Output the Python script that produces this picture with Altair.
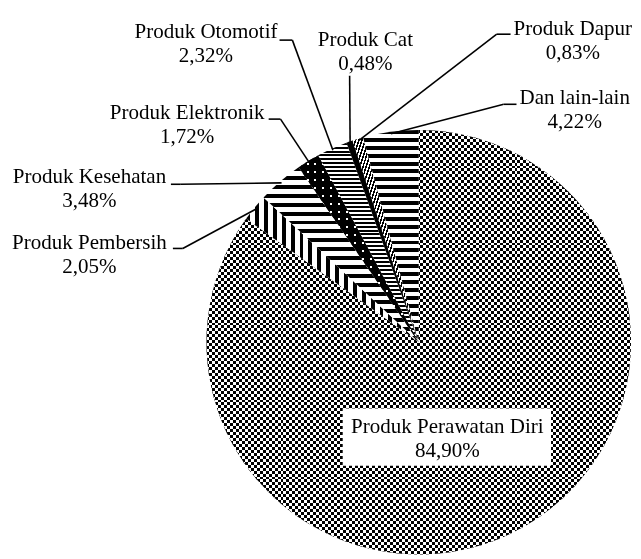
import math
import altair as alt
import pandas as pd

# ---------------- data ----------------
categories = [
    "Produk Perawatan Diri",
    "Produk Pembersih",
    "Produk Kesehatan",
    "Produk Elektronik",
    "Produk Otomotif",
    "Produk Cat",
    "Produk Dapur",
    "Dan lain-lain",
]
values = [84.90, 2.05, 3.48, 1.72, 2.32, 0.48, 0.83, 4.22]

# ---------------- layout (chart pixel coordinates) ----------------
label_x = [445, 82.5, 82.5, 181.5, 200.5, 362, 572, 574]
label_y = [427, 241, 174, 109, 27, 35, 24, 94]
lead_start_x = [None, 167, 165, 264, 275, 346, 509, 515]
lead_start_y = [None, 240, 175, 109, 29, 65, 23, 94]
lead_elbow_x = [None, 177, 175, 276, 288, 346, 495, 502]

W, H = 633, 551
CX, CY, R, R_LEAD = 416, 335, 215, 213
FONT = "Liberation Serif"
FS = 21.3
LINE = 24

pct_text = [f"{v:.2f}".replace(".", ",") + "%" for v in values]

df = pd.DataFrame({
    "category": categories,
    "value": values,
    "order": list(range(len(categories))),
    "pct": pct_text,
    "lx": label_x,
    "ly": label_y,
    "sx": lead_start_x,
    "sy": lead_start_y,
    "bx": lead_elbow_x,
})

# ---------------- pattern helpers (styling) ----------------
def wedge_bbox(a0, a1):
    pts = [(0.0, 0.0)]
    angs = [a0, a1] + [k * 90 for k in range(5) if a0 < k * 90 < a1]
    for a in angs:
        r = math.radians(a)
        pts.append((R * math.sin(r), -R * math.cos(r)))
    xs = [p[0] for p in pts]
    ys = [p[1] for p in pts]
    return max(xs) - min(xs), max(ys) - min(ys)


def stripe_stops(length, period, on, c_on, c_off):
    stops = []
    pos = 0.0
    while pos < length - 1e-9:
        a = pos / length
        b = min((pos + on) / length, 1.0)
        c = min((pos + period) / length, 1.0)
        stops += [
            {"offset": round(a, 5), "color": c_on},
            {"offset": round(b, 5), "color": c_on},
            {"offset": round(b, 5), "color": c_off},
            {"offset": round(c, 5), "color": c_off},
        ]
        pos += period
    return stops


def grad(direction, length, period, on, c_on, c_off):
    g = {"gradient": "linear", "x1": 0, "y1": 0, "x2": 0, "y2": 0,
         "stops": stripe_stops(length, period, on, c_on, c_off)}
    if direction == "h":      # horizontal stripes
        g["y2"] = 1
    elif direction == "v":    # vertical stripes
        g["x2"] = 1
    else:                     # diagonal
        g["x2"] = 1
        g["y2"] = 1
    return g


cum = []
s = 0.0
for v in values:
    cum.append((s, s + v))
    s += v
boxes = [wedge_bbox(a * 3.6, b * 3.6) for a, b in cum]

BL, WH, CLR = "#000000", "#ffffff", "rgba(255,255,255,0)"

# ---------------- chart ----------------
base = alt.Chart(df).transform_window(
    cum="sum(value)", sort=[alt.SortField("order", order="ascending")]
).transform_calculate(
    t0="datum.cum - datum.value",
    mid="(datum.cum - datum.value / 2) * 2 * PI / 100",
    ex=f"{CX} + {R_LEAD} * sin(datum.mid)",
    ey=f"{CY} - {R_LEAD} * cos(datum.mid)",
    ly2=f"datum.ly + {LINE}",
)

theta = alt.Theta("t0:Q", scale=alt.Scale(domain=[0, 100]))
theta2 = alt.Theta2("cum:Q")


def arc(i, fill, blend=None):
    kw = dict(fill=fill, radius=R, strokeWidth=0)
    if blend:
        kw["blend"] = blend
    return base.transform_filter(alt.datum.order == i).mark_arc(**kw).encode(
        theta=theta, theta2=theta2, x=alt.value(CX), y=alt.value(CY)
    )


w0, h0 = boxes[0]
layers = [
    arc(0, grad("h", h0, 6, 3, BL, WH)),
    arc(0, grad("v", w0, 6, 3, WH, CLR), blend="difference"),
    arc(1, grad("v", boxes[1][0], 9, 4, BL, WH)),
    arc(2, grad("h", boxes[2][1], 9, 4, BL, WH)),
    arc(3, grad("h", boxes[3][1], 8, 2, WH, BL)),
    arc(3, grad("v", boxes[3][0], 8, 2, WH, BL), blend="multiply"),
    arc(4, grad("h", boxes[4][1], 4, 2, BL, WH)),
    arc(5, BL),
    arc(6, grad("d", boxes[6][1], 5, 2.5, BL, WH)),
    arc(7, grad("h", boxes[7][1], 8, 4, BL, WH)),
]

# white box behind the main label
box = base.transform_filter(alt.datum.order == 0).mark_rect(fill="white").encode(
    x=alt.value(339), x2=alt.value(550), y=alt.value(402), y2=alt.value(460)
)

leaders = base.transform_filter("isValid(datum.sx)")
lead_h = leaders.mark_rule(color="black", strokeWidth=1.6).encode(
    x=alt.X("sx:Q", scale=None, axis=None),
    y=alt.Y("sy:Q", scale=None, axis=None),
    x2="bx:Q",
    y2="sy:Q",
)
lead_d = leaders.mark_rule(color="black", strokeWidth=1.6).encode(
    x=alt.X("bx:Q", scale=None, axis=None),
    y=alt.Y("sy:Q", scale=None, axis=None),
    x2="ex:Q",
    y2="ey:Q",
)

name_text = base.mark_text(
    font=FONT, fontSize=FS, color="black", align="center", baseline="alphabetic"
).encode(
    x=alt.X("lx:Q", scale=None, axis=None),
    y=alt.Y("ly:Q", scale=None, axis=None),
    text="category:N",
)
pct_t = base.mark_text(
    font=FONT, fontSize=FS, color="black", align="center", baseline="alphabetic"
).encode(
    x=alt.X("lx:Q", scale=None, axis=None),
    y=alt.Y("ly2:Q", scale=None, axis=None),
    text="pct:N",
)

chart = alt.layer(*layers, box, lead_h, lead_d, name_text, pct_t).properties(
    width=W,
    height=H,
    autosize=alt.AutoSizeParams(type="none"),
    padding=0,
    background="white",
).configure_view(stroke="transparent")

chart.save("out.html", embed_options={"renderer": "svg", "actions": False})
